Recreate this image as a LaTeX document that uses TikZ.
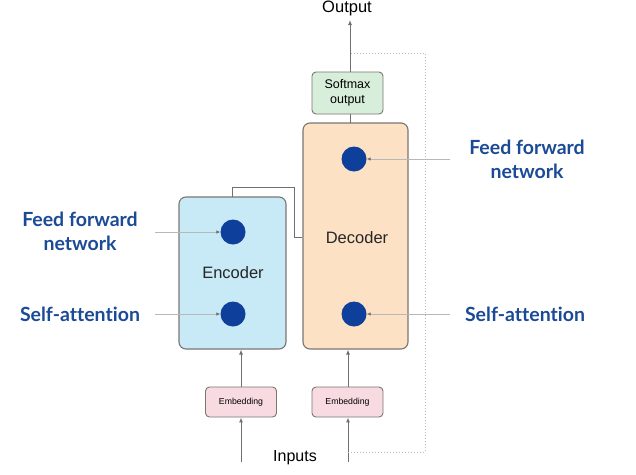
\documentclass[tikz,border=0pt]{standalone}
\usepackage{fontspec}
\setmainfont{Liberation Sans}
\newfontfamily\labfont[Ligatures=NoCommon]{Lato}
\usetikzlibrary{arrows.meta}
\definecolor{encfill}{HTML}{C8E9F6}
\definecolor{decfill}{HTML}{FCE1C5}
\definecolor{smfill}{HTML}{D6EEDA}
\definecolor{embfill}{HTML}{F8DAE1}
\definecolor{dotblue}{HTML}{0E3F9A}
\definecolor{labblue}{HTML}{1B4A96}
\definecolor{boxline}{HTML}{7A7672}
\definecolor{conn}{HTML}{707070}
\definecolor{pointer}{HTML}{B8B8B8}
\tikzset{
  bigbox/.style={draw=boxline, line width=1.1pt, rounded corners=7pt, minimum width=#1},
  embbox/.style={draw=boxline, line width=0.9pt, rounded corners=4pt, fill=embfill, minimum width=71pt, minimum height=30pt, font=\fontsize{8.7}{10}\selectfont},
  dotn/.style={circle, fill=dotblue, minimum size=25pt, inner sep=0pt},
  lab/.style={font=\labfont\bfseries\fontsize{19.5}{24}\selectfont, text=labblue, align=center},
  flow/.style={draw=conn, line width=1pt, -{Latex[length=5pt,width=4pt]}},
  plain/.style={draw=conn, line width=1pt},
  pointerline/.style={draw=pointer, line width=0.9pt, -{Latex[length=4pt,width=3.5pt,color=conn]}},
  dotted line/.style={draw=gray!55, line width=0.9pt, dash pattern=on 1.2pt off 1.8pt},
  boxtext/.style={font=\fontsize{16.5}{18}\selectfont, text=black!85}
}
\begin{document}
\begin{tikzpicture}[x=1pt,y=-1pt]
\useasboundingbox[fill=white] (0,0) rectangle (636,474);
% boxes
\node[bigbox=107pt, fill=encfill, minimum height=152pt] (enc) at (232.5,273) {};
\node[bigbox=105pt, fill=decfill, minimum height=226pt] (dec) at (355.5,236) {};
\node[draw=boxline, line width=0.9pt, rounded corners=4pt, fill=smfill, minimum width=71pt, minimum height=42pt, align=center, font=\fontsize{12.5}{15.5}\selectfont] (sm) at (347.5,93) {Softmax\\output};
\node[embbox] (emb1) at (241,402) {Embedding};
\node[embbox] (emb2) at (347.5,402) {Embedding};
\node[boxtext] (enctxt) at (233,273) {Encoder};
\node[boxtext] (dectxt) at (357,238) {Decoder};
% dots
\node[dotn] (eff) at (233,232) {};
\node[dotn] (esa) at (233,314) {};
\node[dotn] (dff) at (354,159) {};
\node[dotn] (dsa) at (354,314) {};
% texts
\node[font=\fontsize{16.5}{18}\selectfont] (out) at (347,8) {Output};
\node[font=\fontsize{16}{18}\selectfont] (inp) at (295,458) {Inputs};
\node[lab] (lff) at (80,231) {Feed forward\\network};
\node[lab] (lsa) at (80,314) {Self-attention};
\node[lab] (rff) at (527,159) {Feed forward\\network};
\node[lab] (rsa) at (525,314) {Self-attention};
% coordinates
\coordinate (in1) at (241,462);
\coordinate (in2) at (348,462);
\coordinate (outtip) at (350,20);
\coordinate (lffs) at (155,232);
\coordinate (lsas) at (155,314);
\coordinate (rffs) at (450,159);
\coordinate (rsas) at (450,314);
% flows
\draw[flow] (in1) -- (emb1.south);
\draw[flow] (in2) -- (in2 |- emb2.south);
\draw[flow] (emb1.north) -- (emb1.north |- enc.south);
\draw[flow] (in2 |- emb2.north) -- (in2 |- dec.south);
\draw[plain] (sm.south -| 350,0) -- (350,123);
\draw[flow] (350,72) -- (outtip);
\draw[plain] (232,197) -- (232,187) -- (294,187) -- (294,237) -- (dec.west |- 0,237);
\draw[dotted line] (348,452) -- (425,452) -- (425,53) -- (350,53);
% pointers
\draw[pointerline] (lffs) -- (eff.west);
\draw[pointerline] (lsas) -- (esa.west);
\draw[pointerline] (rffs) -- (dff.east);
\draw[pointerline] (rsas) -- (dsa.east);
\end{tikzpicture}
\end{document}
